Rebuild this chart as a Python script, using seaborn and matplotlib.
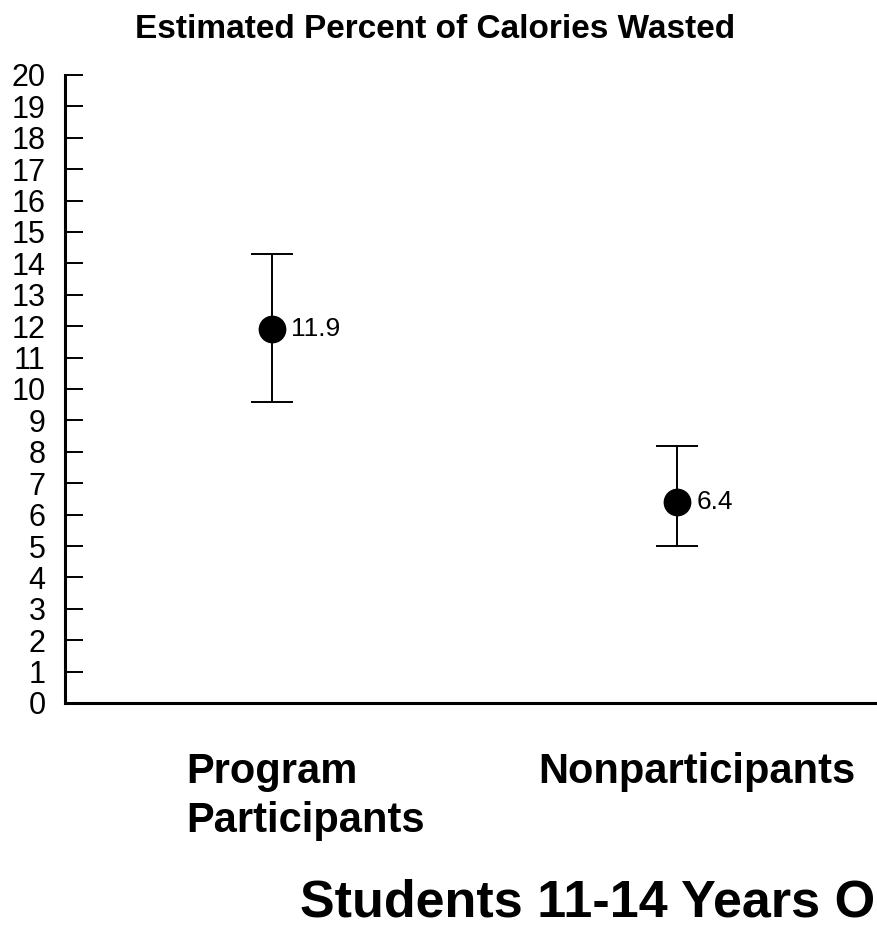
import matplotlib
matplotlib.use('Agg')
import matplotlib.pyplot as plt
import seaborn as sns
import numpy as np
import pandas as pd

# data
groups = ['Program\nParticipants', 'Nonparticipants']
pct_wasted = [11.9, 6.4]
ci_low = [9.6, 5.0]
ci_high = [14.3, 8.2]
value_labels = ['11.9', '6.4']
y_ticks = list(range(0, 21))
caption = 'Students 11-14 Years O'  # the scan cuts off the rest

sns.set_style('ticks')
plt.rcParams['font.family'] = ['Liberation Sans', 'DejaVu Sans']
plt.rcParams['text.color'] = 'black'
plt.rcParams['ytick.color'] = 'black'
plt.rcParams['axes.edgecolor'] = 'black'

W, H = 878, 951
fig = plt.figure(figsize=(W / 100, H / 100), dpi=100)

# axes box in pixels: left spine at x=65, baseline y=703, top tick y=75
ax = fig.add_axes([65 / W, 1 - 703 / H, 1 - 65 / W, (703 - 75) / H])

df = pd.DataFrame({'x': np.arange(len(groups)), 'pct': pct_wasted,
                   'lo': ci_low, 'hi': ci_high})

# error bars
ax.errorbar(df['x'], df['pct'],
            yerr=[df['pct'] - df['lo'], df['hi'] - df['pct']],
            fmt='none', ecolor='black', elinewidth=1.4, capsize=15,
            capthick=1.4, zorder=2)

# dots
sns.scatterplot(data=df, x='x', y='pct', ax=ax, s=20 ** 2, color='black',
                edgecolor='black', linewidth=0, zorder=3, legend=False)

for xi, yi, lab in zip(df['x'], df['pct'], value_labels):
    ax.annotate(lab, (xi, yi), xytext=(14, 0), textcoords='offset points',
                ha='left', va='center', fontsize=19, color='black')

ax.set_xlim(-0.511, 1.496)
ax.set_ylim(0, 20)
ax.set_yticks(y_ticks)
ax.set_yticklabels([str(t) for t in y_ticks], fontsize=22)
ax.set_xticks([])
ax.set_xlabel('')
ax.set_ylabel('')
ax.tick_params(axis='y', direction='in', length=13, width=1.4, pad=14,
               colors='black')
for s in ['top', 'right']:
    ax.spines[s].set_visible(False)
ax.spines['left'].set_linewidth(2.2)
ax.spines['bottom'].set_linewidth(2.2)
ax.patch.set_alpha(0)

# title above the axis
fig.text(435 / W, 1 - 30 / H, 'Estimated Percent of Calories Wasted',
         ha='center', va='center', fontsize=24, fontweight='bold')

# group labels under the baseline
fig.text(186 / W, 1 - 752 / H, groups[0], ha='left', va='top',
         fontsize=30, fontweight='bold', linespacing=1.3)
fig.text(538 / W, 1 - 752 / H, groups[1], ha='left', va='top',
         fontsize=30, fontweight='bold')

# bottom caption
fig.text(300 / W, 1 - 903 / H, caption, ha='left',
         va='center', fontsize=37.5, fontweight='bold')

fig.savefig('out.png', dpi=100)
